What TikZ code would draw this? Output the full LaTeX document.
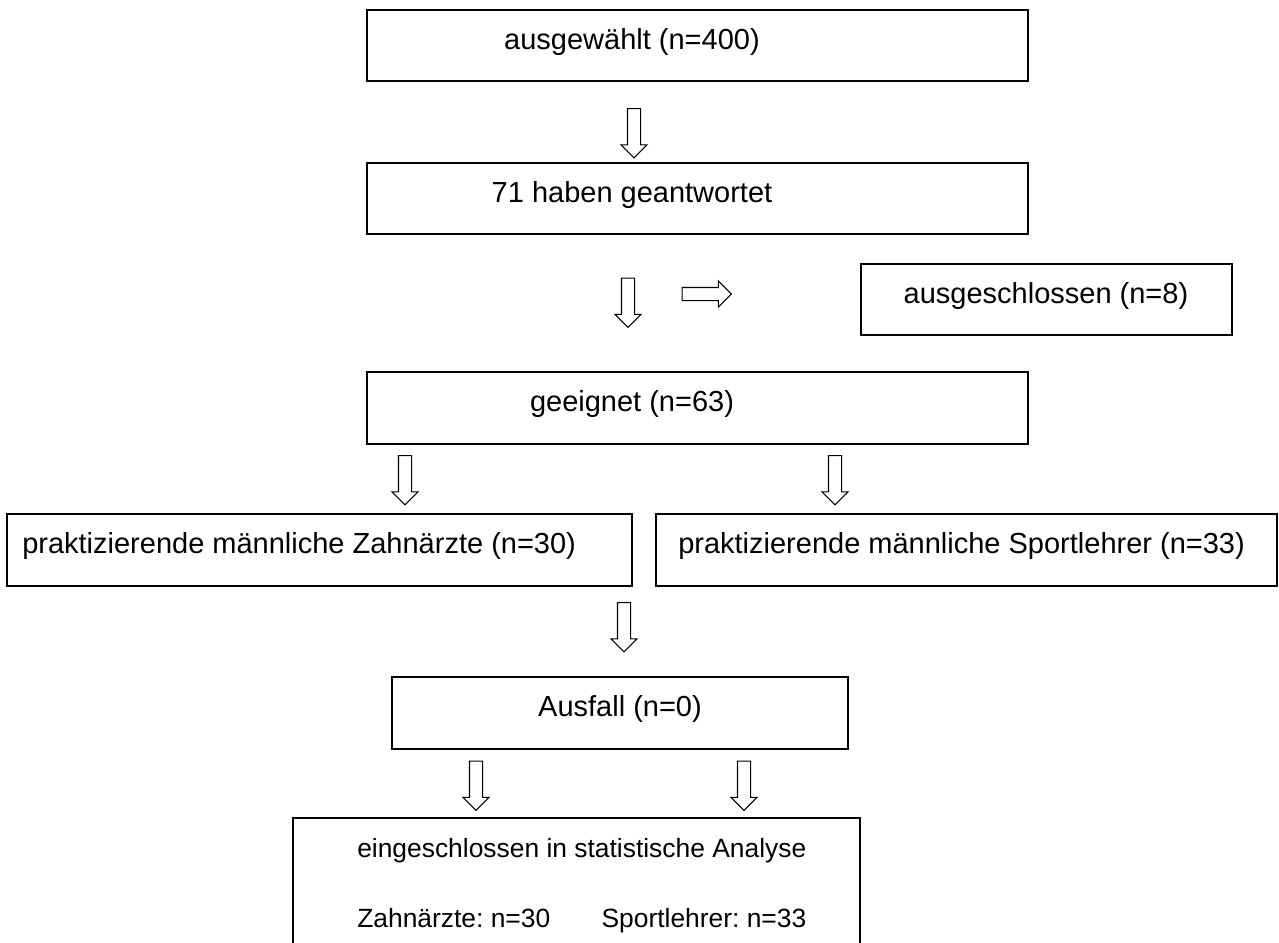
\documentclass[tikz,border=0pt]{standalone}
\usepackage{fontspec}
\setmainfont{Liberation Sans}
\frenchspacing
\usetikzlibrary{
  shapes.arrows,
  positioning,
  fit,
  calc
}
\definecolor{colBorder}{HTML}{000000}
\tikzset{
  %% flow box, spanned over two corners
  box/.style={
    draw=colBorder, line width=1.1pt,
    inner sep=0pt, outer sep=0pt
  },
  %% box text
  txt/.style={font=\fontsize{21.75}{26}\selectfont, inner sep=0pt, anchor=base},
  smalltxt/.style={font=\fontsize{19.8}{24}\selectfont, inner sep=0pt, anchor=base west},
  %% hollow block arrows
  blockarr/.style={
    single arrow, draw=colBorder, fill=white, line width=0.8pt,
    outer sep=0pt,
    single arrow head extend=4.9pt,
    single arrow tip angle=90,
    minimum height=37pt
  },
  downarr/.style={blockarr, inner xsep=4.5pt, inner ysep=0pt,
                  shape border rotate=270},
  rightarr/.style={blockarr, inner xsep=0pt, inner ysep=4.5pt}
}

\begin{document}
\begin{tikzpicture}[x=0.75pt, y=-0.75pt]
\useasboundingbox (0,0) rectangle (1279,943);
\clip (0,0) rectangle (1279,943);

% ════════════════════════════════════════════════════════════
% BOXES
% ════════════════════════════════════════════════════════════
\node[box, fit={(367,10) (1028,81)}]    (sel)  {};
\node[box, fit={(367,163) (1028,234)}]  (resp) {};
\node[box, fit={(861,264) (1232,335)}]  (excl) {};
\node[box, fit={(367,372) (1028,444)}]  (elig) {};
\node[box, fit={(7,514) (632,586)}]     (dent) {};
\node[box, fit={(656,514) (1277,586)}]  (pe)   {};
\node[box, fit={(392,677) (848,749)}]   (drop) {};
% last box runs off the page
\node[box, fit={(293,818) (860,990)}]   (incl) {};

% ════════════════════════════════════════════════════════════
% TEXTS
% ════════════════════════════════════════════════════════════
\node[txt] (sel-t)  at (632,49)  {ausgewählt (n=400)};
\node[txt] (resp-t) at (632,202) {71 haben geantwortet};
\node[txt] (excl-t) at (1046,303) {ausgeschlossen (n=8)};
\node[txt] (elig-t) at (632,411) {geeignet (n=63)};
\node[txt, anchor=base west] (dent-t) at (22,553)  {praktizierende männliche Zahnärzte (n=30)};
\node[txt, anchor=base west] (pe-t)   at (678,553) {praktizierende männliche Sportlehrer (n=33)};
\node[txt] (drop-t) at (620,716) {Ausfall (n=0)};

\node[smalltxt] (incl-t) at (357,857) {eingeschlossen in statistische Analyse};
\node[smalltxt] (incl-d) at (357,927) {Zahnärzte: n=30};
\node[smalltxt, anchor=base east] (incl-p)
     at ($(incl-t.base east)+(0,70)$) {Sportlehrer: n=33};

% ════════════════════════════════════════════════════════════
% ARROWS
% ════════════════════════════════════════════════════════════
\node[downarr]  (a1) at (634,130)   {};
\node[downarr]  (a2) at (628,299.5) {};
\node[rightarr] (a3) at (703.5,294) {};
\node[downarr]  (a4) at (405,477)   {};
\node[downarr]  (a5) at (835,477)   {};
\node[downarr]  (a6) at (624,624)   {};
\node[downarr]  (a7) at (476,782.5) {};
\node[downarr]  (a8) at (744,782.5) {};

\end{tikzpicture}
\end{document}
